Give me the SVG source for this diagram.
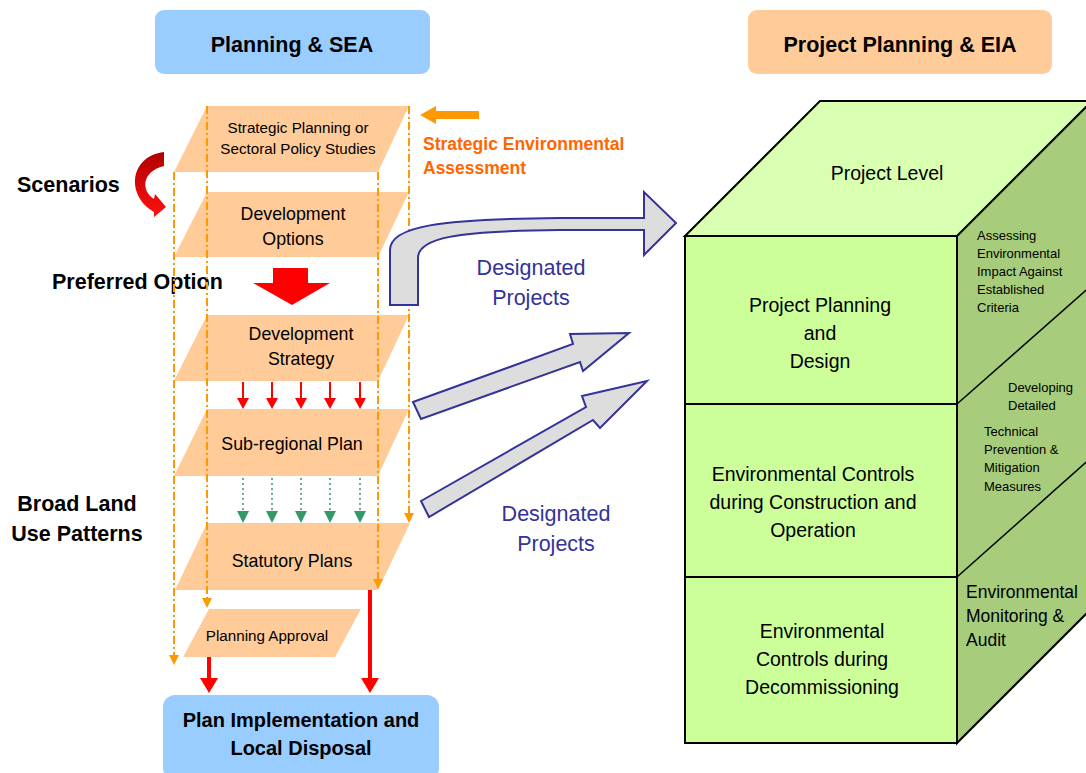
<svg xmlns="http://www.w3.org/2000/svg" width="1086" height="773" viewBox="0 0 1086 773">
<style>
text{font-family:"Liberation Sans",Arial,sans-serif;fill:#000}
.b{font-weight:bold}
.para{fill:#FFCC99}
.dash{stroke:#FF9900;stroke-width:2;stroke-dasharray:8,3,2,3;fill:none}
.grn{stroke:#339966;stroke-width:1.5;stroke-dasharray:2,3;fill:none}
.red{stroke:#FF0000;stroke-width:2;fill:none}
.redb{stroke:#FF0000;stroke-width:4;fill:none}
.blk{fill:#333399;font-size:21.5px}
.org{fill:#FF6600;font-size:17.5px;font-weight:bold}
.ga{fill:#DDDDDD;stroke:#333399;stroke-width:2;stroke-linejoin:miter}
.cube{stroke:#000;stroke-width:2;stroke-linejoin:miter}
</style>
<defs>
<linearGradient id="rg" x1="0" y1="0" x2="0" y2="1">
<stop offset="0" stop-color="#B00000"/>
<stop offset="1" stop-color="#FF1010"/>
</linearGradient>
</defs>
<rect width="1086" height="773" fill="#fff"/>

<g id="title-sea">
<rect x="155" y="10" width="275" height="64" rx="9" fill="#99CCFF"/>
<text x="292" y="52" text-anchor="middle" class="b" font-size="21.5">Planning &amp; SEA</text>
</g>
<g id="title-eia">
<rect x="748" y="10" width="304" height="64" rx="9" fill="#FFCC99"/>
<text x="900" y="52" text-anchor="middle" class="b" font-size="21.5">Project Planning &amp; EIA</text>
</g>

<g id="p1"><polygon class="para" points="207,106 409,106 378,172 174,172"/>
<text x="298" y="133" text-anchor="middle" font-size="15.2">Strategic Planning or</text>
<text x="298" y="154" text-anchor="middle" font-size="15.2">Sectoral Policy Studies</text></g>
<g id="p2"><polygon class="para" points="207,192 409,192 378,257 174,257"/>
<text x="293" y="220" text-anchor="middle" font-size="17.8">Development</text>
<text x="293" y="245" text-anchor="middle" font-size="17.8">Options</text></g>
<g id="p3"><polygon class="para" points="207,315 409,315 378,381 174,381"/>
<text x="301" y="340" text-anchor="middle" font-size="17.8">Development</text>
<text x="301" y="365" text-anchor="middle" font-size="17.8">Strategy</text></g>
<g id="p4"><polygon class="para" points="207,409 409,409 378,476 174,476"/>
<text x="292" y="450" text-anchor="middle" font-size="17.8">Sub-regional Plan</text></g>
<g id="p5"><polygon class="para" points="207,523 410,523 378,590 175,590"/>
<text x="292" y="567" text-anchor="middle" font-size="17.8">Statutory Plans</text></g>
<g id="p6"><polygon class="para" points="209,609 361,609 335,657 183,657"/>
<text x="267" y="641" text-anchor="middle" font-size="15.2">Planning Approval</text></g>

<g id="final">
<rect x="163" y="695" width="276" height="85" rx="12" fill="#99CCFF"/>
<text x="301" y="727" text-anchor="middle" class="b" font-size="20">Plan Implementation and</text>
<text x="301" y="755" text-anchor="middle" class="b" font-size="20">Local Disposal</text>
</g>

<g id="labels">
<text x="17" y="192" class="b" font-size="21.5">Scenarios</text>
<text x="52" y="289" class="b" font-size="21.5">Preferred Option</text>
<text x="77" y="511" text-anchor="middle" class="b" font-size="21.5">Broad Land</text>
<text x="77" y="541" text-anchor="middle" class="b" font-size="21.5">Use Patterns</text>
<text x="423" y="150" class="org">Strategic Environmental</text>
<text x="423" y="174" class="org">Assessment</text>
<text x="531" y="275" text-anchor="middle" class="blk">Designated</text>
<text x="531" y="305" text-anchor="middle" class="blk">Projects</text>
<text x="556" y="521" text-anchor="middle" class="blk">Designated</text>
<text x="556" y="551" text-anchor="middle" class="blk">Projects</text>
</g>

<g id="connectors">
<line class="dash" x1="174" y1="172" x2="174" y2="656"/>
<polygon points="169,655 179,655 174,665" fill="#FF9900"/>
<line class="dash" x1="207" y1="106" x2="207" y2="599"/>
<polygon points="202,598 212,598 207,608" fill="#FF9900"/>
<line class="dash" x1="378" y1="172" x2="378" y2="580"/>
<polygon points="373,579 383,579 378,589" fill="#FF9900"/>
<line class="dash" x1="409" y1="106" x2="409" y2="514"/>
<polygon points="404,513 414,513 409,523" fill="#FF9900"/>

<path d="M479 115 H434" stroke="#FF9900" stroke-width="8" fill="none"/>
<polygon points="420,115 436,106 436,124" fill="#FF9900"/>

<path d="M164 152 C130 156,125 195,154 212 L154 217 L166 207 L155 194 L154 199 C142 192,140 172,164 166 Z" fill="url(#rg)"/>

<polygon points="273,268 308,268 308,283 330,283 292,305 253,283 273,283" fill="#FF0000"/>

<g>
<line class="red" x1="243" y1="382" x2="243" y2="400"/><polygon points="237,398 249,398 243,409" fill="#FF0000"/>
<line class="red" x1="272" y1="382" x2="272" y2="400"/><polygon points="266,398 278,398 272,409" fill="#FF0000"/>
<line class="red" x1="301" y1="382" x2="301" y2="400"/><polygon points="295,398 307,398 301,409" fill="#FF0000"/>
<line class="red" x1="330" y1="382" x2="330" y2="400"/><polygon points="324,398 336,398 330,409" fill="#FF0000"/>
<line class="red" x1="360" y1="382" x2="360" y2="400"/><polygon points="354,398 366,398 360,409" fill="#FF0000"/>
</g>
<g>
<line class="grn" x1="243" y1="478" x2="243" y2="512"/><polygon points="237,511 249,511 243,523" fill="#339966"/>
<line class="grn" x1="272" y1="478" x2="272" y2="512"/><polygon points="266,511 278,511 272,523" fill="#339966"/>
<line class="grn" x1="301" y1="478" x2="301" y2="512"/><polygon points="295,511 307,511 301,523" fill="#339966"/>
<line class="grn" x1="330" y1="478" x2="330" y2="512"/><polygon points="324,511 336,511 330,523" fill="#339966"/>
<line class="grn" x1="360" y1="478" x2="360" y2="512"/><polygon points="354,511 366,511 360,523" fill="#339966"/>
</g>

<line class="redb" x1="209" y1="657" x2="209" y2="680"/>
<polygon points="200,678 218,678 209,693" fill="#FF0000"/>
<line class="redb" x1="370" y1="590" x2="370" y2="680"/>
<polygon points="361,678 379,678 370,693" fill="#FF0000"/>

<path class="ga" d="M390 305 L390 250 C390 226,440 219,560 218 L644 218 L644 192 L676 223 L644 255 L644 230 L560 230 C455 231,418 238,418 258 L418 305 Z"/>
<polygon class="ga" points="413,402 573,344 570,334 629,333 583,371 580,362 421,419"/>
<polygon class="ga" points="421,501 586,407 582,396 647,381 600,428 593,420 429,517"/>
</g>

<g id="cube">
<polygon class="cube" points="685,236 820,101 1096,101 961,236" fill="#D9FFB0"/>
<polygon class="cube" points="957,236 1092,101 1092,608 957,743" fill="#A6CC7C"/>
<line x1="957" y1="404" x2="1092" y2="285" stroke="#000" stroke-width="1.5"/>
<line x1="957" y1="577" x2="1092" y2="457" stroke="#000" stroke-width="1.5"/>
<rect class="cube" x="685" y="236" width="272" height="507" fill="#CCFF99"/>
<line x1="684" y1="404" x2="957" y2="404" stroke="#000" stroke-width="2"/>
<line x1="684" y1="577" x2="957" y2="577" stroke="#000" stroke-width="2"/>
</g>
<g id="cube-text">
<text x="887" y="180" text-anchor="middle" font-size="19.5">Project Level</text>
<text x="820" y="312" text-anchor="middle" font-size="19.5">Project Planning</text>
<text x="820" y="340" text-anchor="middle" font-size="19.5">and</text>
<text x="820" y="368" text-anchor="middle" font-size="19.5">Design</text>
<text x="813" y="481" text-anchor="middle" font-size="19.5">Environmental Controls</text>
<text x="813" y="509" text-anchor="middle" font-size="19.5">during Construction and</text>
<text x="813" y="537" text-anchor="middle" font-size="19.5">Operation</text>
<text x="822" y="638" text-anchor="middle" font-size="19.5">Environmental</text>
<text x="822" y="666" text-anchor="middle" font-size="19.5">Controls during</text>
<text x="822" y="694" text-anchor="middle" font-size="19.5">Decommissioning</text>
<g font-size="13">
<text x="977" y="240">Assessing</text>
<text x="977" y="258">Environmental</text>
<text x="977" y="276">Impact Against</text>
<text x="977" y="294">Established</text>
<text x="977" y="312">Criteria</text>
<text x="1008" y="392">Developing</text>
<text x="1008" y="410">Detailed</text>
<text x="984" y="436">Technical</text>
<text x="984" y="454">Prevention &amp;</text>
<text x="984" y="472">Mitigation</text>
<text x="984" y="491">Measures</text>
</g>
<g font-size="17.5">
<text x="966" y="598">Environmental</text>
<text x="966" y="622">Monitoring &amp;</text>
<text x="966" y="646">Audit</text>
</g>
</g>
</svg>
